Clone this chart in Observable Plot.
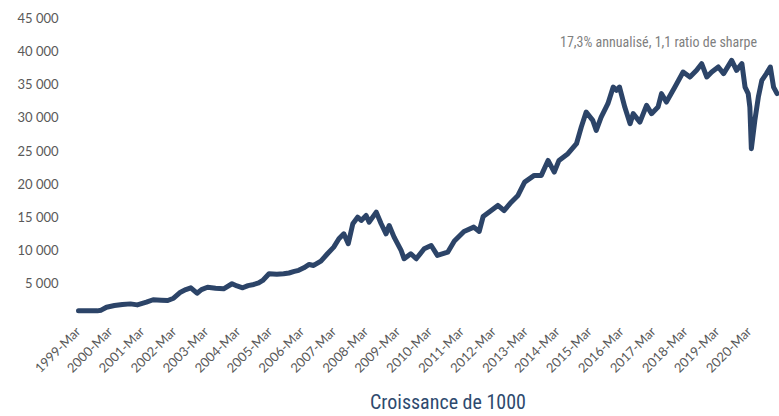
<!DOCTYPE html>
<html><head><meta charset="utf-8">
<script src="https://cdn.jsdelivr.net/npm/d3@7"></script>
<script src="https://cdn.jsdelivr.net/npm/@observablehq/plot@0.6"></script>
<style>
body{margin:0;background:#fff;}
#wrap{width:779px;position:relative;}
#title{width:662px;padding-left:117px;height:28px;line-height:28px;text-align:center;
 font-family:"Liberation Sans Narrow","Arial Narrow","Roboto Condensed",sans-serif;font-size:20px;color:#2E4A6E;}
</style></head><body>
<div id="wrap"><div id="chart"></div><div id="title">Croissance de 1000</div></div>
<script>
const dates = ["1999-03-01","1999-10-01","1999-11-15","2000-01-15","2000-04-15","2000-07-15","2000-10-15","2001-01-01","2001-04-15","2001-07-01","2001-10-01","2001-12-15","2002-02-20","2002-05-10","2002-07-10","2002-09-05","2002-11-15","2003-01-05","2003-03-15","2003-06-15","2003-09-15","2003-12-20","2004-02-15","2004-04-20","2004-06-20","2004-08-25","2004-10-20","2004-12-05","2005-02-15","2005-05-15","2005-08-01","2005-10-01","2005-12-01","2006-01-20","2006-03-20","2006-05-20","2006-07-10","2006-10-01","2006-12-15","2007-02-25","2007-04-25","2007-06-20","2007-08-10","2007-10-01","2007-11-25","2008-01-05","2008-03-01","2008-04-05","2008-06-25","2008-08-20","2008-10-15","2008-11-20","2009-01-15","2009-04-05","2009-05-10","2009-07-25","2009-09-25","2009-12-25","2010-03-15","2010-05-25","2010-09-20","2010-12-05","2011-03-25","2011-07-15","2011-09-15","2011-10-30","2012-01-30","2012-04-15","2012-06-25","2012-09-15","2012-12-01","2013-02-15","2013-06-05","2013-08-25","2013-11-10","2014-01-20","2014-03-15","2014-06-25","2014-10-01","2014-11-25","2015-01-20","2015-04-05","2015-05-15","2015-07-10","2015-09-25","2015-11-25","2016-01-01","2016-02-05","2016-04-05","2016-06-05","2016-07-10","2016-09-25","2016-12-10","2017-02-05","2017-04-20","2017-05-30","2017-07-25","2017-10-30","2018-02-01","2018-04-20","2018-07-05","2018-09-01","2018-10-30","2018-12-25","2019-03-10","2019-05-10","2019-08-10","2019-10-05","2019-12-05","2020-01-10","2020-02-15","2020-03-05","2020-03-22","2020-05-01","2020-06-10","2020-07-20","2020-09-10","2020-10-25","2020-12-01","2021-01-10"];
const values = [1000,1000,1100,1550,1800,1960,2050,1900,2300,2670,2600,2560,2900,3810,4200,4470,3660,4200,4560,4400,4320,5080,4750,4470,4800,4970,5200,5570,6580,6500,6580,6700,6930,7100,7480,7980,7830,8480,9590,10590,11850,12600,11100,14110,15100,14610,15360,14350,15860,14110,12600,13850,12100,10090,8840,9590,8840,10340,10840,9340,9830,11500,12950,13600,12950,15200,16110,16870,16100,17360,18370,20380,21390,21390,23640,21880,23640,24650,26160,28660,30920,29670,28160,30160,32180,34680,34190,34680,31670,29170,30680,29410,31930,30680,31670,33690,32430,34680,36940,36190,37200,38200,36190,36940,37700,36700,38700,37200,38200,34680,33690,31670,25400,29670,33180,35690,36700,37700,34680,33690];
const tickDates = ["1999-03-01","2000-03-01","2001-03-01","2002-03-01","2003-03-01","2004-03-01","2005-03-01","2006-03-01","2007-03-01","2008-03-01","2009-03-01","2010-03-01","2011-03-01","2012-03-01","2013-03-01","2014-03-01","2015-03-01","2016-03-01","2017-03-01","2018-03-01","2019-03-01","2020-03-01"];
const yTicks = [5000,10000,15000,20000,25000,30000,35000,40000,45000];
const annotationText = ["17,3% annualisé, 1,1 ratio de sharpe"];

const parse = d3.utcParse("%Y-%m-%d");
const data = dates.map((d, i) => ({date: parse(d), value: values[i]}));
const fmtY = d3.formatLocale({decimal: ",", thousands: " ", grouping: [3], currency: ["", ""]}).format(",");
const fmtX = d3.utcFormat("%Y-%b");

const chart = Plot.plot({
  width: 779,
  height: 388,
  marginLeft: 78,
  marginRight: 2,
  marginTop: 18,
  marginBottom: 71,
  style: {fontFamily: "Lato, sans-serif", fontSize: "13px", color: "#595959", background: "#fff"},
  x: {type: "utc", domain: [parse("1999-03-01"), parse("2021-01-15")]},
  y: {domain: [0, 45000]},
  marks: [
    Plot.axisY({ticks: yTicks, tickFormat: fmtY, tickSize: 0, tickPadding: 20, label: null, fill: "#595959"}),
    Plot.axisX({ticks: tickDates.map(parse), tickFormat: fmtX, tickSize: 0, tickPadding: 12, tickRotate: -45, label: null, fill: "#595959"}),
    Plot.line(data, {x: "date", y: "value", stroke: "#2C4468", strokeWidth: 5, strokeLinejoin: "round", strokeLinecap: "round"}),
    Plot.text(annotationText, {text: d => d, frameAnchor: "top-right", dx: -119, dy: 24, lineAnchor: "middle", textAnchor: "middle",
      fill: "#7F7F7F", fontSize: 14, fontFamily: "'Liberation Sans Narrow','Arial Narrow','Roboto Condensed',sans-serif"})
  ]
});
document.getElementById("chart").appendChild(chart);
</script>
</body></html>
